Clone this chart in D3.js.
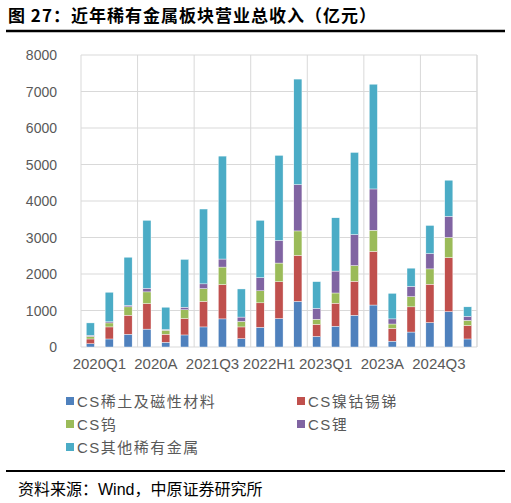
<!DOCTYPE html>
<html><head><meta charset="utf-8">
<script src="https://cdn.jsdelivr.net/npm/d3@7"></script>
<style>body{margin:0;background:#fff;font-family:"Liberation Sans","Noto Sans CJK SC",sans-serif;}</style>
</head><body>
<script>
var periods = ["2020Q1","2020H1","2020Q3","2020A","2021Q1","2021H1","2021Q3","2021A","2022Q1","2022H1","2022Q3","2022A","2023Q1","2023H1","2023Q3","2023A","2024Q1","2024H1","2024Q3","2024A","2025Q1"]
var seriesNames = ["CS稀土及磁性材料","CS镍钴锡锑","CS钨","CS锂","CS其他稀有金属"]
var colors = ["#4f81bd","#c0504d","#9bbb59","#8064a2","#4bacc6"]
var rareEarth = [90,220,350,490,130,330,550,770,230,540,780,1250,290,570,870,1150,160,410,670,970,220]
var nickelCobalt = [130,330,520,700,220,450,700,940,320,670,1010,1260,330,630,930,1470,350,690,1050,1480,370]
var tungsten = [70,110,230,320,110,240,350,480,150,330,510,670,140,280,430,580,120,280,420,550,140]
var lithium = [30,30,40,100,20,70,130,220,120,360,620,1270,300,600,850,1130,140,280,420,580,110]
var otherRare = [340,810,1320,1860,610,1310,2050,2820,770,1570,2330,2890,730,1460,2250,2870,700,500,770,990,260]
var yTicks = [0,1000,2000,3000,4000,5000,6000,7000,8000]

var W = 511, H = 503
var svg = d3.select("body").append("svg").attr("width", W).attr("height", H)

svg.append("text").attr("x", 8).attr("y", 22)
   .attr("font-size", 17).attr("font-weight", "bold").attr("fill", "#000")
   .attr("font-family", "'Noto Sans CJK SC',sans-serif").attr("letter-spacing", 1)
   .text("图 27：近年稀有金属板块营业总收入（亿元）")
svg.append("line").attr("x1", 6).attr("x2", 505).attr("y1", 31).attr("y2", 31)
   .attr("stroke", "#000").attr("stroke-width", 2.5)

var m = {left: 81, right: 477, top: 55, bottom: 347}
var x = d3.scaleBand().domain(periods).range([m.left, m.right]).paddingInner(0.57).paddingOuter(0.28)
var y = d3.scaleLinear().domain([0, 8000]).range([m.bottom, m.top])

var g = svg.append("g")
g.selectAll(".hg").data(yTicks).enter().append("line")
  .attr("x1", m.left).attr("x2", m.right)
  .attr("y1", function(d){return y(d)}).attr("y2", function(d){return y(d)})
  .attr("stroke", "#d9d9d9").attr("stroke-width", 1)
var step = (m.right - m.left) / periods.length
var vg = d3.range(0, periods.length + 1, 3).concat([periods.length])
g.selectAll(".vg").data(vg).enter().append("line")
  .attr("x1", function(d){return m.left + d*step}).attr("x2", function(d){return m.left + d*step})
  .attr("y1", m.top).attr("y2", m.bottom)
  .attr("stroke", "#d9d9d9").attr("stroke-width", 1)

g.selectAll(".yl").data(yTicks).enter().append("text")
  .attr("x", 57).attr("y", function(d){return y(d) + 5})
  .attr("text-anchor", "end").attr("font-size", 14).attr("fill", "#595959")
  .text(function(d){return d})

g.selectAll(".xl").data(periods.filter(function(d,i){return i % 3 == 0})).enter().append("text")
  .attr("x", function(d){return x(d) + x.bandwidth()/2 + 9}).attr("y", 369)
  .attr("text-anchor", "middle").attr("font-size", 15).attr("fill", "#595959")
  .text(function(d){return d})

var rows = periods.map(function(p, i) {
  return {p: p, s0: rareEarth[i], s1: nickelCobalt[i], s2: tungsten[i], s3: lithium[i], s4: otherRare[i]}
})
var stack = d3.stack().keys(["s0","s1","s2","s3","s4"])(rows)

g.selectAll(".layer").data(stack).enter().append("g")
  .attr("fill", function(d, i){return colors[i]})
  .selectAll("rect").data(function(d){return d}).enter().append("rect")
  .attr("x", function(d){return x(d.data.p)})
  .attr("width", x.bandwidth())
  .attr("y", function(d){return y(d[1])})
  .attr("height", function(d){return y(d[0]) - y(d[1])})
  .attr("stroke", "#fff").attr("stroke-width", 0.4)

var legPos = [[66,407],[297,407],[66,430],[297,430],[66,453]]
var leg = svg.append("g")
seriesNames.forEach(function(n, i) {
  leg.append("rect").attr("x", legPos[i][0]).attr("y", legPos[i][1] - 10)
     .attr("width", 8).attr("height", 8).attr("fill", colors[i])
  leg.append("text").attr("x", legPos[i][0] + 11).attr("y", legPos[i][1])
     .attr("font-size", 15).attr("fill", "#595959")
     .attr("font-family", "'Liberation Sans','Noto Sans CJK SC',sans-serif")
     .attr("letter-spacing", 1.5)
     .text(n)
})

svg.append("line").attr("x1", 6).attr("x2", 505).attr("y1", 471).attr("y2", 471)
   .attr("stroke", "#000").attr("stroke-width", 2)
svg.append("text").attr("x", 18).attr("y", 495).attr("font-size", 16).attr("fill", "#000")
   .attr("font-family", "'Liberation Sans','Noto Sans CJK SC',sans-serif")
   .text("资料来源：Wind，中原证券研究所")
</script>
</body></html>
